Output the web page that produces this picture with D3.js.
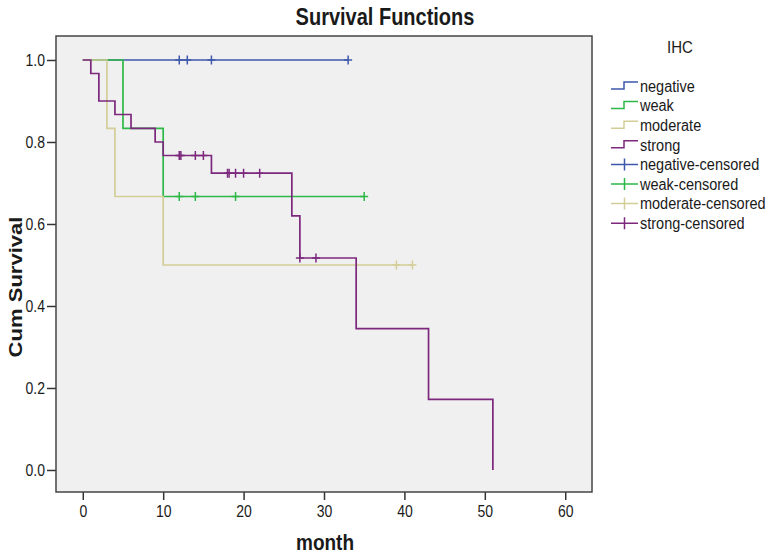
<!DOCTYPE html>
<html>
<head>
<meta charset="utf-8">
<script src="https://cdn.jsdelivr.net/npm/d3@7"></script>
<style>
  body { margin: 0; background: #fff; }
  text { font-family: "Liberation Sans", Arial, sans-serif; fill: #1a1a1a; }
</style>
</head>
<body>
<script>
// groups and their Kaplan-Meier steps
var groups = ["negative", "weak", "moderate", "strong"];

var negativeTimes = [0];
var negativeSurv = [1.0];
var negativeCensored = [12, 13, 16, 33];

var weakTimes = [0, 5, 10];
var weakSurv = [1.0, 0.833, 0.667];
var weakCensored = [12, 14, 19, 35];

var moderateTimes = [0, 3, 4, 10];
var moderateSurv = [1.0, 0.833, 0.667, 0.5];
var moderateCensored = [39, 41];

var strongTimes = [0, 1, 2, 4, 6, 9, 10, 16, 26, 27, 34, 43, 51];
var strongSurv = [1.0, 0.967, 0.9, 0.867, 0.833, 0.8, 0.767, 0.724, 0.62, 0.517, 0.345, 0.172, 0];
var strongCensored = [12, 12.2, 14, 15, 18, 18.2, 19, 20, 22, 27, 29];

var xTicks = [0, 10, 20, 30, 40, 50, 60];
var yTicks = [0, 0.2, 0.4, 0.6, 0.8, 1.0];

var series = [
  {name: "negative", times: negativeTimes, surv: negativeSurv, cens: negativeCensored},
  {name: "weak", times: weakTimes, surv: weakSurv, cens: weakCensored},
  {name: "moderate", times: moderateTimes, surv: moderateSurv, cens: moderateCensored},
  {name: "strong", times: strongTimes, surv: strongSurv, cens: strongCensored}
];

var color = d3.scaleOrdinal()
    .domain(groups)
    .range(["#3e58ac", "#2eb848", "#d3ce97", "#7c287d"]);

// the picture's text is a bit taller than it is wide
var stretch = "scale(1,1.16)";

var margin = {top: 36, left: 56},
    width = 536,
    height = 456;

var svg = d3.select("body").append("svg")
    .attr("width", 768)
    .attr("height", 554);

// title
svg.append("text")
    .attr("transform", "translate(385,25) " + stretch)
    .attr("text-anchor", "middle")
    .style("font-size", "20px")
    .style("font-weight", "bold")
    .text("Survival Functions");

var g = svg.append("g")
    .attr("transform", "translate(" + margin.left + "," + margin.top + ")");

var x = d3.scaleLinear()
    .domain([-3.33, 63.33])
    .range([0, width]);

var y = d3.scaleLinear()
    .domain([-0.0537, 1.0585])
    .range([height, 0]);

// plot background
g.append("rect")
    .attr("width", width)
    .attr("height", height)
    .attr("fill", "#f0f0f0");

// axes
g.append("g")
    .attr("transform", "translate(0," + height + ")")
    .call(d3.axisBottom(x).tickValues(xTicks).tickSize(8).tickPadding(4))
    .call(function(a) {
      a.select(".domain").remove();
      a.selectAll("line").attr("stroke", "#333").attr("stroke-width", 1.5);
      a.selectAll("text").style("font-size", "14px").attr("fill", "#1a1a1a").attr("transform", stretch);
    });

g.append("g")
    .call(d3.axisLeft(y).tickValues(yTicks).tickFormat(d3.format(".1f")).tickSize(9).tickPadding(2))
    .call(function(a) {
      a.select(".domain").remove();
      a.selectAll("line").attr("stroke", "#333").attr("stroke-width", 1.5);
      a.selectAll("text").style("font-size", "14px").attr("fill", "#1a1a1a").attr("transform", stretch);
    });

// survival at time t for a group
function survAt(s, t) {
  var v = s.surv[0];
  s.times.forEach(function(tt, i) { if (tt <= t) v = s.surv[i]; });
  return v;
}

var line = d3.line()
    .x(function(d) { return x(d[0]); })
    .y(function(d) { return y(d[1]); })
    .curve(d3.curveStepAfter);

series.forEach(function(s) {
  var pts = s.times.map(function(t, i) { return [t, s.surv[i]]; });
  var end = d3.max(s.cens.concat(s.times));
  if (end > s.times[s.times.length - 1]) pts.push([end, s.surv[s.surv.length - 1]]);

  g.append("path")
      .datum(pts)
      .attr("fill", "none")
      .attr("stroke", color(s.name))
      .attr("stroke-width", 1.7)
      .attr("d", line);

  g.selectAll(".cens-" + s.name)
      .data(s.cens)
    .enter().append("path")
      .attr("class", "cens-" + s.name)
      .attr("fill", "none")
      .attr("stroke", color(s.name))
      .attr("stroke-width", 1.5)
      .attr("d", function(t) {
        var cx = x(t), cy = y(survAt(s, t));
        return "M" + (cx - 4) + "," + cy + "H" + (cx + 4) + "M" + cx + "," + (cy - 4.5) + "V" + (cy + 4.5);
      });
});

// frame
g.append("rect")
    .attr("width", width)
    .attr("height", height)
    .attr("fill", "none")
    .attr("stroke", "#444")
    .attr("stroke-width", 1.5);

// axis titles
svg.append("text")
    .attr("transform", "translate(325,550) " + stretch)
    .attr("text-anchor", "middle")
    .style("font-size", "19px")
    .style("font-weight", "bold")
    .text("month");

svg.append("text")
    .attr("transform", "translate(22,287) rotate(-90) scale(1.16,1)")
    .attr("text-anchor", "middle")
    .style("font-size", "19px")
    .style("font-weight", "bold")
    .text("Cum Survival");

// legend
var legend = svg.append("g")
    .attr("transform", "translate(610,0)");

legend.append("text")
    .attr("transform", "translate(70,53) " + stretch)
    .attr("text-anchor", "middle")
    .style("font-size", "15px")
    .text("IHC");

var legendItems = groups.map(function(n) { return {name: n, kind: "step"}; })
    .concat(groups.map(function(n) { return {name: n, kind: "cens"}; }));

var item = legend.selectAll(".item")
    .data(legendItems)
  .enter().append("g")
    .attr("class", "item")
    .attr("transform", function(d, i) { return "translate(0," + (86 + i * 19.6) + ")"; });

item.append("path")
    .attr("fill", "none")
    .attr("stroke", function(d) { return color(d.name); })
    .attr("stroke-width", 1.5)
    .attr("d", function(d) {
      if (d.kind === "step") return "M1,3H14V-4H28";
      return "M1,0H28M14.5,-6V6";
    });

item.append("text")
    .attr("transform", "translate(30,0) " + stretch)
    .attr("dy", "0.35em")
    .style("font-size", "14.5px")
    .text(function(d) { return d.kind === "step" ? d.name : d.name + "-censored"; });
</script>
</body>
</html>
